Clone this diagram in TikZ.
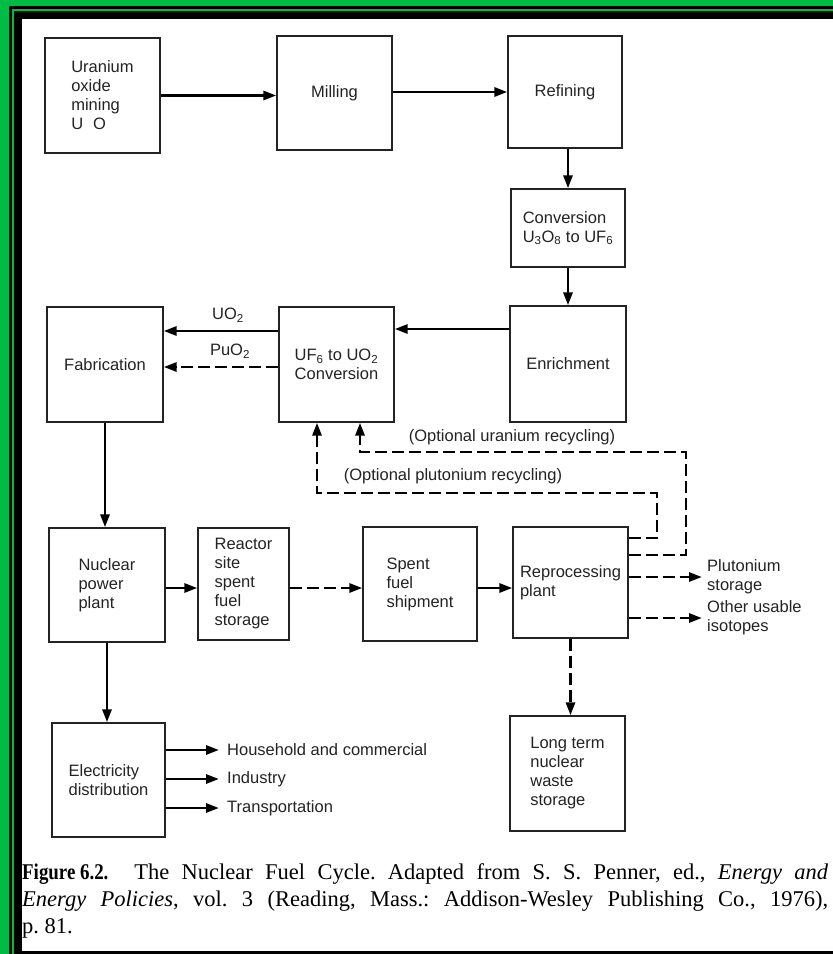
\documentclass[tikz,border=0pt]{standalone}
\usepackage{fontspec}
\usepackage{graphicx}
\setmainfont{Liberation Sans}
\newfontfamily\capfont{Liberation Serif}
\usetikzlibrary{arrows.meta,calc}
\definecolor{framegreen}{RGB}{0,187,68}
\definecolor{ink}{RGB}{35,35,35}
\begin{document}
\frenchspacing
\begin{tikzpicture}[x=1pt,y=-1pt,
  box/.style={draw=ink, line width=1.3pt, inner sep=0pt, align=left,
    font=\fontsize{16.5}{19}\selectfont, text=ink},
  lab/.style={inner sep=0pt, align=left, font=\fontsize{16.5}{19}\selectfont, text=ink},
  arr/.style={draw=black, line width=2.8pt, -{Triangle[length=13pt,width=9pt]}},
  darr/.style={arr, dash pattern=on 12pt off 5pt},
  capt/.style={anchor=west, inner sep=0pt, font=\capfont\fontsize{22.5}{27}\selectfont},
]
% frame
\fill[framegreen] (0,0) rectangle (833,954);
\fill[black] (9,6) rectangle (833,954);
\fill[framegreen] (12,9) rectangle (833,954);
\fill[black] (14,11) rectangle (833,954);
\fill[white] (22,19) rectangle (833,951);

% boxes
\node[box, minimum width=115pt, minimum height=115pt] (mining) at (102.5,95.5) {Uranium\\oxide\\mining\\U\hspace{0.6em}O};
\node[box, minimum width=115pt, minimum height=114pt] (milling) at (334.5,93) {Milling};
\node[box, minimum width=114pt, minimum height=112pt] (refining) at (565,92) {Refining};
\node[box, minimum width=114pt, minimum height=78pt] (conversion) at (568,228) {Conversion\\U\textsubscript{3}O\textsubscript{8} to UF\textsubscript{6}};
\node[box, minimum width=116pt, minimum height=116pt] (enrich) at (568,364) {Enrichment};
\node[box, minimum width=115pt, minimum height=115pt] (uf6) at (336.5,364.5) {UF\textsubscript{6} to UO\textsubscript{2}\\Conversion};
\node[box, minimum width=116pt, minimum height=115pt] (fab) at (105,364.5) {Fabrication};
\node[box, minimum width=116pt, minimum height=114pt] (nuclear) at (107,585) {Nuclear\\power\\plant};
\node[box, minimum width=91pt, minimum height=112pt] (reactor) at (243.5,584) {Reactor\\site\\spent\\fuel\\storage};
\node[box, minimum width=114pt, minimum height=114pt] (spent) at (420,584) {Spent\\fuel\\shipment};
\node[box, minimum width=115pt, minimum height=111pt] (reproc) at (570.5,582.5) {Reprocessing\\plant};
\node[box, minimum width=115pt, minimum height=115pt] (waste) at (567.5,773.5) {Long term\\nuclear\\waste\\storage};
\node[box, minimum width=113pt, minimum height=114pt] (elec) at (108.5,780) {Electricity\\distribution};

% free-end coordinates
\coordinate (u1) at (686,452);
\coordinate (p1) at (657,493);
\coordinate (se) at (702,0);
\coordinate (ee) at (219,0);

% labels
\node[lab] (uo2) at (228,315) {UO\textsubscript{2}};
\node[lab] (puo2) at (230,351) {PuO\textsubscript{2}};
\node[lab] (urec) at (512,437) {(Optional uranium recycling)};
\node[lab] (prec) at (453,476) {(Optional plutonium recycling)};
\node[lab, anchor=west] (plut) at (707,577) {Plutonium\\storage};
\node[lab, anchor=west] (other) at (707,618) {Other usable\\isotopes};
\node[lab, anchor=west] (house) at (227,750) {Household and commercial};
\node[lab, anchor=west] (indus) at (227,779) {Industry};
\node[lab, anchor=west] (trans) at (227,808) {Transportation};

% connectors
\draw[arr] (mining.east) -- (mining.east -| milling.west);
\draw[arr] ([yshift=1pt]milling.east) -- ([yshift=1pt]milling.east -| refining.west);
\draw[arr] (conversion.north |- refining.south) -- (conversion.north);
\draw[arr] (conversion.south) -- (conversion.south |- enrich.north);
\draw[arr] ([yshift=35pt]enrich.west) -- ([yshift=35pt]enrich.west -| uf6.east);
\draw[arr] ([yshift=33.5pt]uf6.west) -- ([yshift=33.5pt]uf6.west -| fab.east);
\draw[darr] ([yshift=-2.5pt]uf6.west) -- ([yshift=-2.5pt]uf6.west -| fab.east);
\draw[arr] (fab.south) -- (fab.south |- nuclear.north);
\draw[arr] (nuclear.south) -- (nuclear.south |- elec.north);
\draw[arr] ([yshift=-3pt]nuclear.east) -- ([yshift=-3pt]nuclear.east -| reactor.west);
\draw[darr] ([yshift=-4pt]reactor.east) -- ([yshift=-4pt]reactor.east -| spent.west);
\draw[arr] ([yshift=-4pt]spent.east) -- ([yshift=-4pt]spent.east -| reproc.west);
\draw[darr] ([yshift=5.5pt]reproc.east) -- ([yshift=5.5pt]reproc.east -| se);
\draw[darr] ([yshift=-35.5pt]reproc.east) -- ([yshift=-35.5pt]reproc.east -| se);
\draw[darr] (reproc.south) -- (reproc.south |- waste.north);
\draw[darr] ([yshift=27.5pt]reproc.east) -| (u1) -| ([xshift=23.5pt]uf6.south);
\draw[darr] ([yshift=44.5pt]reproc.east) -| (p1) -| ([xshift=-19.5pt]uf6.south);
\draw[arr] ([yshift=30pt]elec.east) -- ([yshift=30pt]elec.east -| ee);
\draw[arr] ([yshift=1pt]elec.east) -- ([yshift=1pt]elec.east -| ee);
\draw[arr] ([yshift=-28pt]elec.east) -- ([yshift=-28pt]elec.east -| ee);

% caption
\node[capt] (cap1) at (22,874) {\makebox[806pt][s]{\scalebox{0.84}[1]{\textbf{Figure 6.2.}}\hspace{0.6em} The Nuclear Fuel Cycle. Adapted from S. S. Penner, ed., \textit{Energy and}}};
\node[capt] (cap2) at (22,901) {\makebox[806pt][s]{\textit{Energy Policies}, vol. 3 (Reading, Mass.: Addison-Wesley Publishing Co., 1976),}};
\node[capt] (cap3) at (22,928) {p. 81.};
\end{tikzpicture}
\end{document}
